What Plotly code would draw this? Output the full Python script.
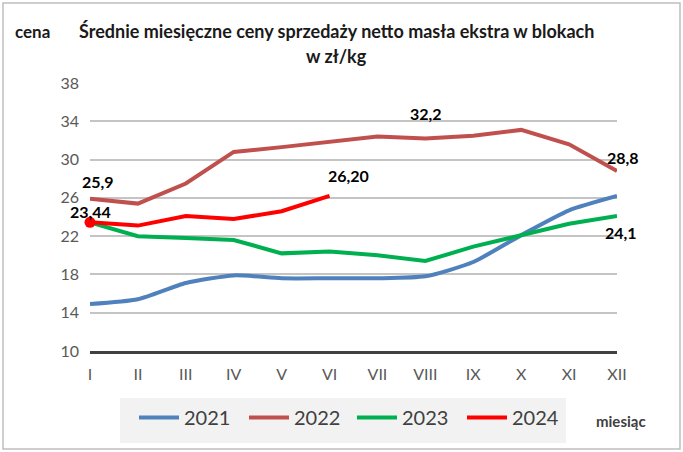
import plotly.graph_objects as go

months = ["I", "II", "III", "IV", "V", "VI", "VII", "VIII", "IX", "X", "XI", "XII"]
y2021 = [14.9, 15.4, 17.1, 17.9, 17.6, 17.6, 17.6, 17.8, 19.3, 22.1, 24.7, 26.2]
y2022 = [25.9, 25.4, 27.5, 30.8, 31.3, 31.9, 32.4, 32.2, 32.5, 33.1, 31.6, 28.8]
y2023 = [23.44, 22.0, 21.8, 21.6, 20.2, 20.4, 20.0, 19.4, 20.9, 22.1, 23.3, 24.1]
y2024 = [23.44, 23.1, 24.1, 23.8, 24.6, 26.20]
yticks = [10, 14, 18, 22, 26, 30, 34, 38]

FONT = "Lato, Liberation Sans, sans-serif"
x_idx = list(range(len(months)))

# plot area in pixels
L, R, T, B = 90, 617, 83, 351
W, H = R - L, B - T
def px(x):
    return (x - L) / W
def py(y):
    return (B - y) / H

fig = go.Figure()
fig.add_trace(go.Scatter(x=x_idx, y=y2021, name="2021", mode="lines", legend="legend",
                         line=dict(color="#4F81BD", width=4, shape="spline", smoothing=0.6),
                         cliponaxis=False))
fig.add_trace(go.Scatter(x=x_idx, y=y2022, name="2022", mode="lines", legend="legend2",
                         line=dict(color="#C0504D", width=4), cliponaxis=False))
fig.add_trace(go.Scatter(x=x_idx, y=y2023, name="2023", mode="lines", legend="legend3",
                         line=dict(color="#00B050", width=4), cliponaxis=False))
fig.add_trace(go.Scatter(x=x_idx[:len(y2024)], y=y2024, name="2024", mode="lines", legend="legend4",
                         line=dict(color="#FF0000", width=4), cliponaxis=False))
fig.add_trace(go.Scatter(x=[x_idx[0]], y=[y2024[0]], mode="markers", showlegend=False,
                         marker=dict(color="#FF0000", size=11), cliponaxis=False))

lab = dict(font=dict(family=FONT, size=16, color="#000000", weight="bold"), showarrow=False)
fig.add_annotation(x=0, y=y2022[0], text="25,9", xshift=8, yshift=17, **lab)
fig.add_annotation(x=0, y=y2024[0], text="23,44", xshift=0, yshift=11, **lab)
fig.add_annotation(x=5, y=y2024[5], text="26,20", xshift=19, yshift=20, **lab)
fig.add_annotation(x=7, y=y2022[7], text="32,2", xshift=1, yshift=25, **lab)
fig.add_annotation(x=11, y=y2022[11], text="28,8", xshift=6, yshift=14, **lab)
fig.add_annotation(x=11, y=y2023[11], text="24,1", xshift=4, yshift=-16, **lab)

tfont = dict(family=FONT, size=18, color="#1a1a1a", weight="bold")
pa = dict(xref="paper", yref="paper", xanchor="center", yanchor="middle", showarrow=False)
fig.add_annotation(x=px(336), y=py(31),
                   text="Średnie miesięczne ceny sprzedaży netto masła ekstra w blokach",
                   font=tfont, **pa)
fig.add_annotation(x=px(336), y=py(56), text="w zł/kg", font=tfont, **pa)
fig.add_annotation(x=px(32), y=py(31), text="cena",
                   font=dict(family=FONT, size=17, color="#1a1a1a", weight="bold"), **pa)
fig.add_annotation(x=px(621), y=py(421), text="miesiąc",
                   font=dict(family=FONT, size=15, color="#404040", weight="bold"), **pa)

# legend background box
fig.add_shape(type="rect", xref="paper", yref="paper",
              x0=px(120), x1=px(566), y0=py(443), y1=py(398),
              line=dict(width=0), fillcolor="#F2F2F2", layer="below")
# outer border
fig.add_shape(type="rect", xref="paper", yref="paper",
              x0=px(3), x1=px(680), y0=py(449), y1=py(3),
              line=dict(color="#BFBFBF", width=1.5), fillcolor="rgba(0,0,0,0)", layer="below")

def leg(xpix):
    return dict(orientation="h", x=px(xpix), y=py(398), xanchor="left", yanchor="top",
                bgcolor="rgba(0,0,0,0)", font=dict(family=FONT, size=20, color="#404040"),
                itemwidth=40, borderwidth=0)

fig.update_layout(
    width=683, height=452,
    margin=dict(l=L, r=683 - R, t=T, b=452 - B),
    paper_bgcolor="white", plot_bgcolor="white",
    font=dict(family=FONT),
    showlegend=True,
    legend=leg(134), legend2=leg(244), legend3=leg(352), legend4=leg(462),
    xaxis=dict(tickmode="array", tickvals=x_idx, ticktext=months, range=[0, 11],
               showgrid=False, zeroline=False, showline=True, linecolor="#404040", linewidth=3,
               ticks="", ticklabelstandoff=7,
               tickfont=dict(family=FONT, size=16, color="#595959"), automargin=False),
    yaxis=dict(range=[10, 38], tickvals=yticks, showgrid=True, gridcolor="#C4C4C4", gridwidth=1.5,
               zeroline=False, showline=False, ticks="", automargin=False, ticklabelstandoff=10,
               tickfont=dict(family=FONT, size=16, color="#595959")),
)

fig.write_html("out.html", config={"displayModeBar": False},
               post_script="document.body.style.margin='0';")
